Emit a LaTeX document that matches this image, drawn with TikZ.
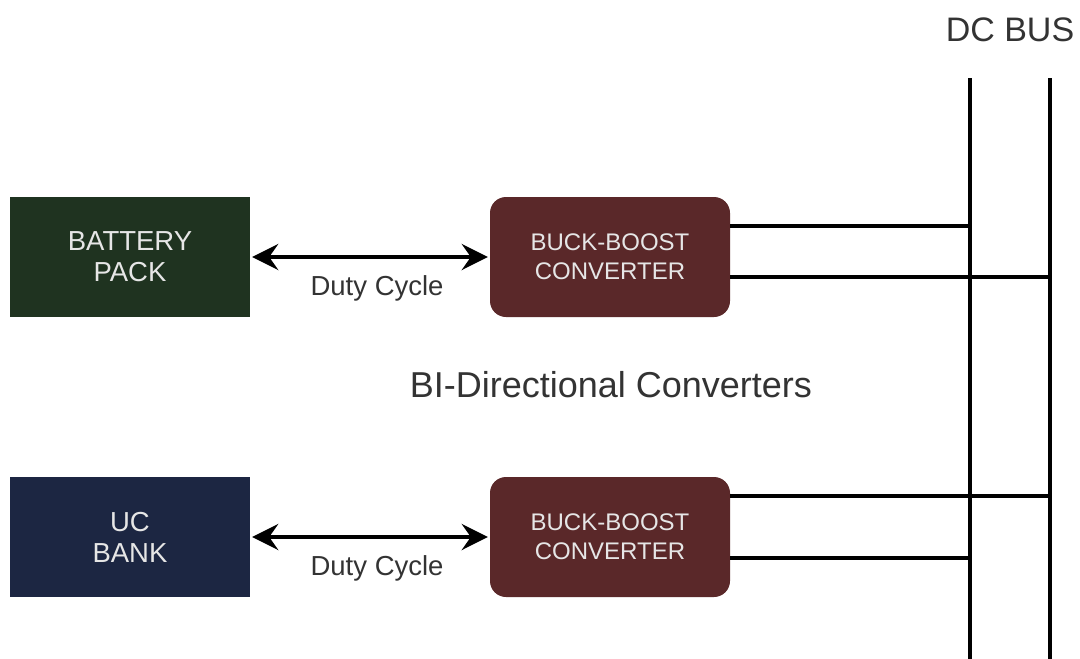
\documentclass[tikz,border=0pt]{standalone}
\usepackage{fontspec}
\setmainfont{Liberation Sans}
\usetikzlibrary{arrows.meta}
\definecolor{battgreen}{HTML}{1F3320}
\definecolor{ucnavy}{HTML}{1C2642}
\definecolor{convred}{HTML}{5A2829}
\definecolor{labelgray}{HTML}{333333}
\definecolor{boxtext}{HTML}{E6E6E6}
\tikzset{
  source/.style={minimum width=240pt, minimum height=120pt, inner sep=0pt,
    text=boxtext, align=center, font=\fontsize{27.5}{31}\selectfont},
  conv/.style={fill=convred, rounded corners=16pt, minimum width=240pt,
    minimum height=120pt, inner sep=0pt, text=boxtext, align=center,
    font=\fontsize{24}{29}\selectfont},
  duty/.style={{Stealth[length=26pt,width=26pt,inset=9pt]}-{Stealth[length=26pt,width=26pt,inset=9pt]},
    line width=4pt, black},
  dutylabel/.style={text=labelgray, font=\fontsize{27.5}{30}\selectfont},
  busline/.style={line width=3.8pt, black},
  tap/.style={line width=3.5pt, black},
}
\begin{document}
\begin{tikzpicture}[x=1pt,y=-1pt]
\useasboundingbox (0,0) rectangle (1080,659);

% storage sources
\node[source, fill=battgreen] (batt) at (130,257) {BATTERY\\PACK};
\node[source, fill=ucnavy] (uc) at (130,537) {UC\\BANK};

% bidirectional DC/DC stages
\node[conv] (conv1) at (610,257) {BUCK-BOOST\\CONVERTER};
\node[conv] (conv2) at (610,537) {BUCK-BOOST\\CONVERTER};

% duty-cycle control links
\draw[duty] ([xshift=2pt]batt.east) -- ([xshift=-2pt]conv1.west)
  node[dutylabel, pos=0.53, below=13pt] (duty1) {Duty Cycle};
\draw[duty] ([xshift=2pt]uc.east) -- ([xshift=-2pt]conv2.west)
  node[dutylabel, pos=0.53, below=13pt] (duty2) {Duty Cycle};

\node[text=labelgray, font=\fontsize{36}{40}\selectfont] (title) at (611,385) {BI-Directional Converters};

% DC bus rails
\node[text=labelgray, font=\fontsize{34}{40}\selectfont] (buslabel) at (1010,30) {DC BUS};
\coordinate (railAtop) at (970,78);
\coordinate (railAbot) at (970,659);
\coordinate (railBtop) at (1050,78);
\coordinate (railBbot) at (1050,659);
\draw[busline] (railAtop) -- (railAbot);
\draw[busline] (railBtop) -- (railBbot);

% converter outputs onto the rails
\coordinate (t1a) at (970,226);
\coordinate (t1b) at (1050,277);
\coordinate (t2a) at (1050,496);
\coordinate (t2b) at (970,558);
\draw[tap] (conv1.east |- t1a) -- (t1a);
\draw[tap] (conv1.east |- t1b) -- (t1b);
\draw[tap] (conv2.east |- t2a) -- (t2a);
\draw[tap] (conv2.east |- t2b) -- (t2b);
\end{tikzpicture}
\end{document}
